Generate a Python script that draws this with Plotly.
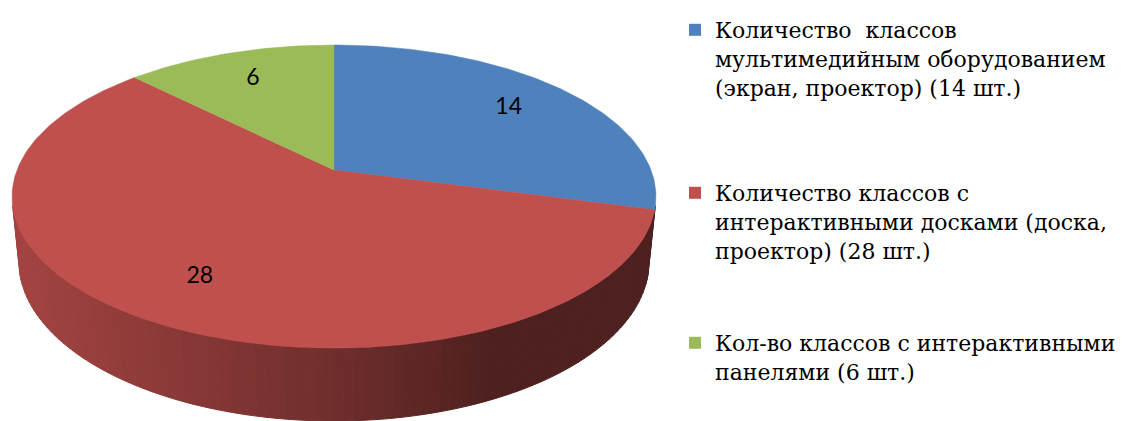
import numpy as np
import plotly.graph_objects as go

# ---- data ----
categories = [
    "Количество\u00a0 классов<br>мультимедийным оборудованием<br>(экран, проектор) (14 шт.)",
    "Количество классов с<br>интерактивными досками (доска,<br>проектор) (28 шт.)",
    "Кол-во классов с интерактивными<br>панелями (6 шт.)",
]
values = [14, 28, 6]
colors = ["#4F81BD", "#C0504D", "#9BBB59"]

# ---- geometry of the 3D pie (layout, in screen pixels) ----
W, H = 1125, 421
OFF = 8  # page body margin
CX, CY = 334, 170
R = 317
SIN_T, COS_T = 0.4634, 0.886
DIST = R * COS_T / 0.175
DEPTH = 74


def project(theta_deg, r, y_world):
    th = np.radians(theta_deg)
    X = r * np.sin(th)
    Z = -r * np.cos(th)
    d = Z * COS_T + y_world * SIN_T
    v = -Z * SIN_T + y_world * COS_T
    sc = DIST / (DIST - d)
    return CX + X * sc, CY - v * sc


def hex2rgb(h):
    h = h.lstrip("#")
    return [int(h[i:i + 2], 16) for i in (0, 2, 4)]


def shade(hexcol, f):
    r, g, b = hex2rgb(hexcol)
    return "rgb(%d,%d,%d)" % (r * f, g * f, b * f)


total = sum(values)
bounds = np.concatenate([[0], np.cumsum(values)]) / total * 360.0

fig = go.Figure()

# side walls
for i, v in enumerate(values):
    a0, a1 = bounds[i], bounds[i + 1]
    n = max(2, int(np.ceil((a1 - a0) / 1.5)) + 1)
    ths = np.linspace(a0, a1, n)
    for t0, t1 in zip(ths[:-1], ths[1:]):
        x0t, y0t = project(t0, R, 0)
        x1t, y1t = project(t1, R, 0)
        x0b, y0b = project(t0, R, -DEPTH)
        x1b, y1b = project(t1, R, -DEPTH)
        xs = [x0t, x1t, x1b, x0b]
        ys = [y0t, y1t, y1b, y0b]
        area = 0.0
        for k in range(4):
            area += xs[k] * ys[(k + 1) % 4] - xs[(k + 1) % 4] * ys[k]
        if area >= 0:
            continue
        u = ((x0t + x1t) / 2 - CX) / R
        f = float(np.interp(u, [-1.0, 0.0, 0.5, 1.0], [0.85, 0.58, 0.41, 0.41]))
        col = shade(colors[i], f)
        fig.add_trace(go.Scatter(
            x=xs + [xs[0]], y=ys + [ys[0]], mode="lines", fill="toself",
            fillcolor=col, line=dict(color=col, width=1),
            showlegend=False, hoverinfo="skip"))

# top faces
for i, v in enumerate(values):
    a0, a1 = bounds[i], bounds[i + 1]
    ths = np.linspace(a0, a1, max(3, int((a1 - a0) / 1.0) + 1))
    px, py = project(ths, R, 0)
    xs = [CX] + list(px) + [CX]
    ys = [CY] + list(py) + [CY]
    fig.add_trace(go.Scatter(
        x=xs, y=ys, mode="lines", fill="toself", fillcolor=colors[i],
        line=dict(color=colors[i], width=0.5),
        showlegend=False, hoverinfo="skip"))

# data labels
mids = (bounds[:-1] + bounds[1:]) / 2
lx, ly = project(mids, 0.75 * R, 0)
fig.add_trace(go.Scatter(
    x=lx, y=ly, mode="text", text=[str(v) for v in values],
    textfont=dict(family="Lato", size=23, color="black"),
    showlegend=False, hoverinfo="skip"))

# legend entries
legend_names = ["legend", "legend2", "legend3"]
for i, cat in enumerate(categories):
    fig.add_trace(go.Scatter(
        x=[None], y=[None], mode="markers", name=cat,
        marker=dict(symbol="square", size=12, color=colors[i]),
        legend=legend_names[i]))

SERIF = "DejaVu Serif"
leg_common = dict(xanchor="left", yanchor="top", valign="top",
                  bgcolor="rgba(0,0,0,0)", borderwidth=0,
                  font=dict(family=SERIF, size=22, color="black"))
tops = [9, 172, 322]
lx0 = (675 - OFF) / W
fig.update_layout(
    width=W, height=H,
    font=dict(family=SERIF),
    margin=dict(l=0, r=0, t=0, b=0),
    paper_bgcolor="white", plot_bgcolor="white",
    xaxis=dict(range=[OFF, W + OFF], visible=False, fixedrange=True),
    yaxis=dict(range=[H + OFF, OFF], visible=False, fixedrange=True),
    legend=dict(x=lx0, y=1 - (tops[0] - OFF) / H, **leg_common),
    legend2=dict(x=lx0, y=1 - (tops[1] - OFF) / H, **leg_common),
    legend3=dict(x=lx0, y=1 - (tops[2] - OFF) / H, **leg_common),
)

fig.write_html("out.html")
